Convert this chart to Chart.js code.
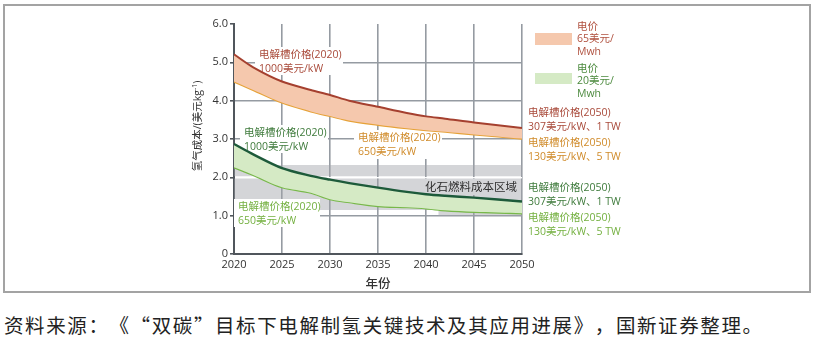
<!DOCTYPE html>
<html>
<head>
<meta charset="utf-8">
<script src="https://cdn.jsdelivr.net/npm/chart.js@4"></script>
<style>
  html, body { margin: 0; padding: 0; background: #fff; }
  #wrap { position: relative; width: 813px; height: 347px; overflow: hidden; }
  #frame { position: absolute; left: 3px; top: 4px; width: 808px; height: 289px; border: 2px solid #a3a3a3; box-sizing: border-box; }
  #cv { position: absolute; left: 0; top: 0; }
  #source { position: absolute; left: 4px; top: 312px; font: 19.5px 'Noto Sans CJK SC', sans-serif; color: #222; letter-spacing: 1.6px;
            white-space: nowrap; line-height: 26px; font-feature-settings: "fwid" 1; text-spacing-trim: space-all; }
</style>
</head>
<body>
<div id="wrap">
  <div id="frame"></div>
  <canvas id="cv" width="813" height="297"></canvas>
  <div id="source">资料来源：《“双碳”目标下电解制氢关键技术及其应用进展》，国新证券整理。</div>
</div>
<script>
// hydrogen cost, USD per kg
const years = [2020, 2022, 2025, 2028, 2030, 2032, 2035, 2038, 2040, 2042, 2045, 2050];
const power65Stack1000 = [5.21, 4.87, 4.50, 4.28, 4.15, 4.00, 3.84, 3.68, 3.59, 3.53, 3.43, 3.29];
const power65Stack650  = [4.50, 4.28, 3.95, 3.72, 3.60, 3.48, 3.37, 3.28, 3.23, 3.19, 3.12, 3.01];
const power20Stack1000 = [2.87, 2.60, 2.24, 2.04, 1.94, 1.85, 1.73, 1.62, 1.56, 1.52, 1.47, 1.37];
const power20Stack650  = [2.26, 2.06, 1.74, 1.60, 1.43, 1.35, 1.25, 1.22, 1.19, 1.14, 1.10, 1.06];

// fossil fuel cost range
const fossilX = [2020, 2050];
const fossilTop = [2.32, 2.32];
const fossilMidHigh = [2.03, 2.03];
const fossilMidLow = [1.97, 1.97];
const fossilLowX = [2020, 2041.3, 2041.3, 2050];
const fossilLow = [1.15, 1.15, 0.99, 0.99];

const xTicks = [2020, 2025, 2030, 2035, 2040, 2045, 2050];

const CJK = "'Noto Sans CJK SC', sans-serif";
const NUM = "'Open Sans', 'Noto Sans CJK SC', sans-serif";

const pts = (xs, ys) => xs.map((x, i) => ({ x: x, y: ys[i] }));

const bandFill = 'rgba(159,161,168,0.45)';
const lineDs = (label, data, color, width, fill) => ({
  label: label, data: data, borderColor: color, borderWidth: width,
  pointRadius: 0, tension: 0.3, fill: fill
});
const bandDs = (data, fill) => ({
  data: data, borderWidth: 0, pointRadius: 0, tension: 0,
  fill: fill, backgroundColor: bandFill
});

const notes = [
  { lines: ['电解槽价格(2020)', '1000美元/kW'], x: 259, y: 55, color: '#a94a3a', box: [255, 47, 88, 28] },
  { lines: ['电解槽价格(2020)', '1000美元/kW'], x: 244, y: 133, color: '#3f7b3c', box: [240, 125, 88, 28] },
  { lines: ['电解槽价格(2020)', '650美元/kW'], x: 358, y: 138, color: '#d08b2a', box: [354, 130, 88, 29] },
  { lines: ['电解槽价格(2020)', '650美元/kW'], x: 238, y: 207, color: '#74b040', box: [234, 199, 86, 28] },
  { lines: ['电解槽价格(2050)', '307美元/kW、1 TW'], x: 528, y: 113, color: '#a94a3a' },
  { lines: ['电解槽价格(2050)', '130美元/kW、5 TW'], x: 528, y: 143, color: '#d08b2a' },
  { lines: ['电解槽价格(2050)', '307美元/kW、1 TW'], x: 528, y: 188, color: '#3f7b3c' },
  { lines: ['电解槽价格(2050)', '130美元/kW、5 TW'], x: 528, y: 218, color: '#74b040' }
];

const legendItems = [
  { swatch: [535, 33, 37, 12], fill: '#f5c8ad', lines: ['电价', '65美元/', 'Mwh'], y: 27, color: '#b0513f' },
  { swatch: [535, 73, 37, 11], fill: '#d5eac5', lines: ['电价', '20美元/', 'Mwh'], y: 69, color: '#4c8a3e' }
];

const decor = {
  id: 'decor',
  afterDatasetDraw(chart, args) {
    // label backgrounds go above the fossil band but under the cost curves
    if (args.index !== 4) return;
    const ctx = chart.ctx;
    ctx.save();
    ctx.fillStyle = '#fff';
    notes.forEach(n => { if (n.box) ctx.fillRect(n.box[0], n.box[1], n.box[2], n.box[3]); });
    ctx.fillStyle = '#d4d5d8';
    ctx.fillRect(423, 179, 96, 16);
    ctx.restore();
  },
  afterDraw(chart) {
    const ctx = chart.ctx;
    ctx.save();
    ctx.textBaseline = 'middle';
    ctx.textAlign = 'left';
    ctx.font = '10.5px ' + NUM;
    notes.forEach(n => {
      ctx.fillStyle = n.color;
      n.lines.forEach((t, i) => ctx.fillText(t, n.x, n.y + i * 14.5));
    });

    legendItems.forEach(l => {
      ctx.fillStyle = l.fill;
      ctx.fillRect(l.swatch[0], l.swatch[1], l.swatch[2], l.swatch[3]);
      ctx.fillStyle = l.color;
      l.lines.forEach((t, i) => ctx.fillText(t, 577, l.y + i * 12.3));
    });

    ctx.fillStyle = '#2e2e2e';
    ctx.font = '11.5px ' + CJK;
    ctx.fillText('化石燃料成本区域', 425, 187);

    // x axis title
    ctx.textAlign = 'center';
    ctx.fillStyle = '#333';
    ctx.font = '500 12.5px ' + CJK;
    ctx.fillText('年份', 378, 283);

    // y axis title with superscript
    ctx.translate(198, 126);
    ctx.rotate(-Math.PI / 2);
    ctx.textAlign = 'left';
    const main = '氢气成本/(美元kg';
    ctx.font = '10.5px ' + NUM;
    const w1 = ctx.measureText(main).width;
    const w3 = ctx.measureText(')').width;
    ctx.font = '7px ' + NUM;
    const w2 = ctx.measureText('-1').width;
    let x = -(w1 + w2 + w3) / 2;
    ctx.font = '10.5px ' + NUM;
    ctx.fillText(main, x, 0);
    x += w1;
    ctx.font = '7px ' + NUM;
    ctx.fillText('-1', x, -3.5);
    x += w2;
    ctx.font = '10.5px ' + NUM;
    ctx.fillText(')', x, 0);
    ctx.restore();
  }
};

new Chart(document.getElementById('cv'), {
  type: 'line',
  data: {
    datasets: [
      lineDs('65美元/Mwh 1000', pts(years, power65Stack1000), '#a5402f', 2, { target: '+1', above: '#f5c8ad', below: '#f5c8ad' }),
      lineDs('65美元/Mwh 650', pts(years, power65Stack650), '#e6a238', 2.2, false),
      lineDs('20美元/Mwh 1000', pts(years, power20Stack1000), '#1d5a3a', 2.4, { target: '+1', above: '#d5eac5', below: '#d5eac5' }),
      lineDs('20美元/Mwh 650', pts(years, power20Stack650), '#78b84a', 2.2, false),
      bandDs(pts(fossilX, fossilTop), '+1'),
      bandDs(pts(fossilX, fossilMidHigh), false),
      bandDs(pts(fossilX, fossilMidLow), '+1'),
      bandDs(pts(fossilLowX, fossilLow), false)
    ]
  },
  options: {
    responsive: false,
    animation: false,
    devicePixelRatio: 1,
    layout: { padding: { left: 0, right: 291, top: 24, bottom: 0 } },
    plugins: { legend: { display: false }, tooltip: { enabled: false } },
    scales: {
      x: {
        type: 'linear', min: 2020, max: 2050,
        afterBuildTicks: s => { s.ticks = xTicks.map(v => ({ value: v })); },
        afterFit: s => { s.height = 43; },
        ticks: { color: '#333', padding: 4, maxRotation: 0, font: { family: NUM, size: 11 }, callback: v => String(v) },
        grid: { color: '#959ba2', lineWidth: 1.6, drawTicks: false },
        border: { color: '#50565c', width: 2 }
      },
      y: {
        min: 0, max: 6,
        afterFit: s => { s.width = 234; },
        ticks: { stepSize: 1, color: '#333', padding: 2, font: { family: NUM, size: 11 },
                 callback: v => v === 0 ? '0' : v.toFixed(1) },
        grid: {
          lineWidth: 1.6, tickLength: 4, tickColor: '#50565c',
          color: c => {
            const v = c.tick ? c.tick.value : null;
            if (v === 6) return 'rgba(0,0,0,0)';
            if (v === 2) return '#ffffff';
            if (v === 0) return '#50565c';
            return '#959ba2';
          }
        },
        border: { color: '#50565c', width: 2 }
      }
    }
  },
  plugins: [decor]
});
</script>
</body>
</html>
